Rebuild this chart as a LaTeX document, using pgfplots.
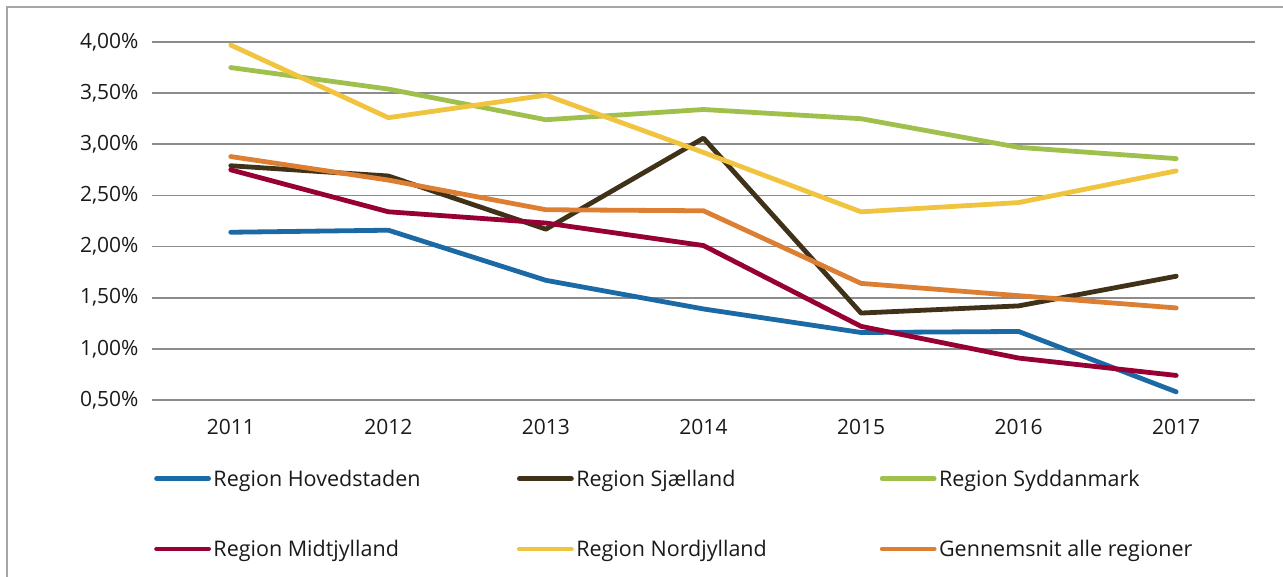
\documentclass[border=0pt]{standalone}
\usepackage{pgfplots}
\pgfplotsset{compat=1.18}
\usepackage{fontspec}
\setmainfont{Open Sans}
\definecolor{cHov}{RGB}{27,105,165}
\definecolor{cSja}{RGB}{64,50,25}
\definecolor{cSyd}{RGB}{160,192,77}
\definecolor{cMid}{RGB}{150,0,52}
\definecolor{cNor}{RGB}{240,196,62}
\definecolor{cGen}{RGB}{221,127,50}
\definecolor{cGrid}{RGB}{140,140,140}
\definecolor{cTxt}{RGB}{26,26,26}
\begin{document}
\begin{tikzpicture}
\useasboundingbox (-152bp,-177bp) rectangle (1131bp,400bp);
\draw[color=gray!70, line width=1.5bp] (-145bp,393bp) rectangle (1300bp,-300bp);
\begin{axis}[
  at={(0,0)}, anchor=south west,
  width=1103bp, height=358bp, scale only axis,
  xmin=-0.5, xmax=6.5, ymin=0.5, ymax=4.0,
  xtick={0,...,6}, xticklabels={2011,2012,2013,2014,2015,2016,2017},
  ytick={0.5,1,1.5,2,2.5,3,3.5,4},
  /pgf/number format/assume math mode=true,
  yticklabel={\pgfmathprintnumber[fixed,fixed zerofill,precision=2,use comma]{\tick}\%},
  ymajorgrids, grid style={color=cGrid, line width=1.8bp},
  axis line style={draw=none}, major tick length=0pt,
  tick label style={font=\fontsize{21bp}{24bp}\selectfont, text=cTxt},
  yticklabel style={xshift=-10bp},
  xticklabel style={yshift=-16bp},
  legend columns=3,
  legend style={at={(0,0)}, anchor=north west, xshift=2bp, yshift=-67bp, draw=none, fill=none,
    inner sep=0pt, row sep=47.5bp, font=\fontsize{21.5bp}{24bp}\selectfont, text=cTxt,
    nodes={inner sep=2.5bp}},
  legend image code/.code={\draw[#1, line cap=round] (0bp,0bp) -- (52bp,0bp);},
  every axis plot/.append style={line width=4.8bp, line join=round, line cap=round},
]
\addplot[cHov] coordinates {(0,2.14) (1,2.16) (2,1.67) (3,1.39) (4,1.16) (5,1.17) (6,0.58)};
\addlegendentry{\makebox[301bp][l]{Region Hovedstaden}}
\addplot[cSja] coordinates {(0,2.79) (1,2.69) (2,2.17) (3,3.06) (4,1.35) (5,1.42) (6,1.71)};
\addlegendentry{\makebox[301bp][l]{Region Sjælland}}
\addplot[cSyd] coordinates {(0,3.75) (1,3.54) (2,3.24) (3,3.34) (4,3.25) (5,2.97) (6,2.86)};
\addlegendentry{\makebox[301bp][l]{Region Syddanmark}}
\addplot[cMid] coordinates {(0,2.75) (1,2.34) (2,2.23) (3,2.01) (4,1.22) (5,0.91) (6,0.74)};
\addlegendentry{\makebox[301bp][l]{Region Midtjylland}}
\addplot[cNor] coordinates {(0,3.97) (1,3.26) (2,3.48) (3,2.92) (4,2.34) (5,2.43) (6,2.74)};
\addlegendentry{\makebox[301bp][l]{Region Nordjylland}}
\addplot[cGen] coordinates {(0,2.88) (1,2.65) (2,2.36) (3,2.35) (4,1.64) (5,1.52) (6,1.40)};
\addlegendentry{\makebox[301bp][l]{Gennemsnit alle regioner}}
\end{axis}
\end{tikzpicture}
\end{document}
